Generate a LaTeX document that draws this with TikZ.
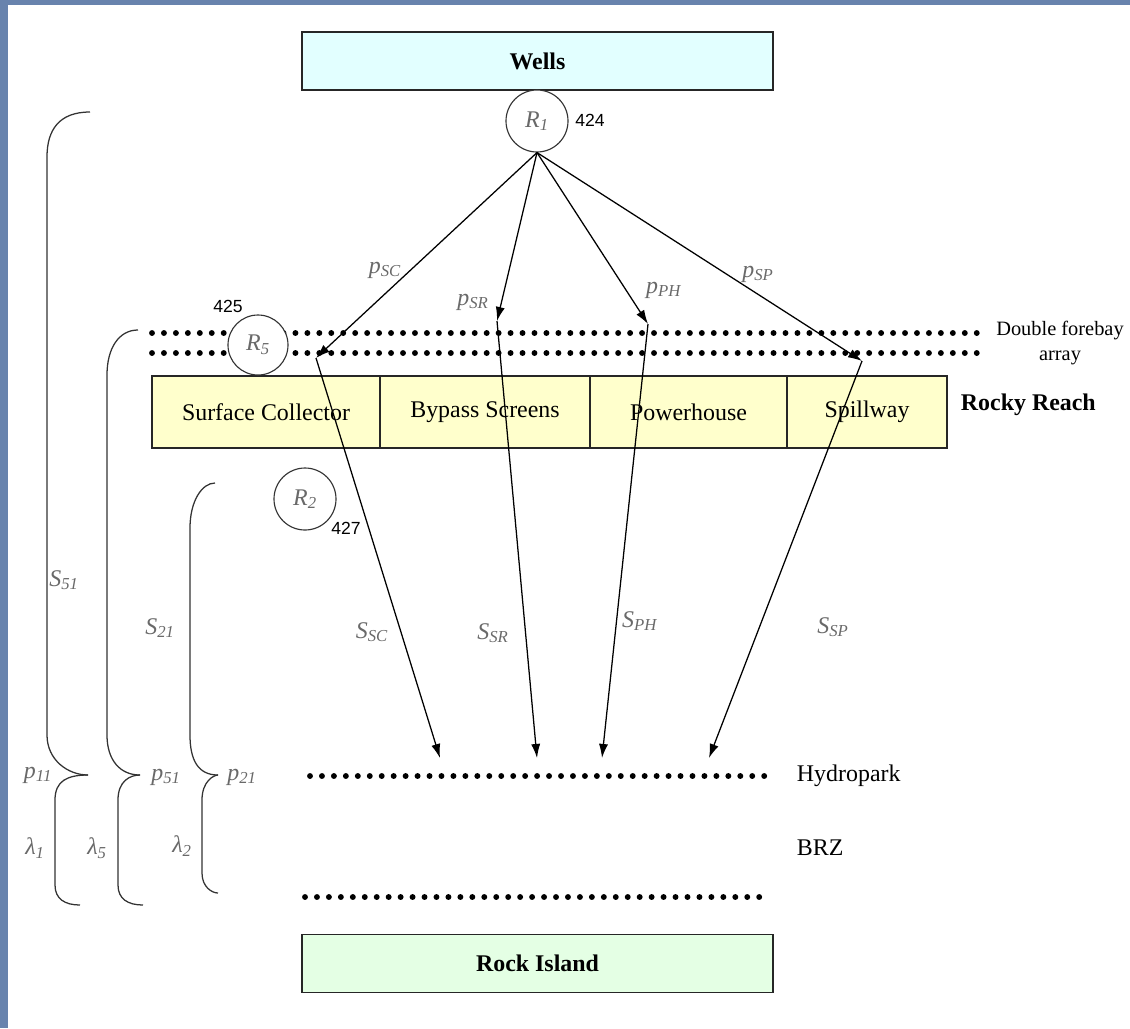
\documentclass[tikz,border=0pt]{standalone}
\usepackage{fontspec}
\setmainfont{Liberation Serif}
\newfontfamily\numfont{Liberation Sans}
\usetikzlibrary{arrows.meta}

\definecolor{framebar}{RGB}{104,131,173}
\definecolor{wellsfill}{RGB}{226,255,255}
\definecolor{reachfill}{RGB}{255,255,204}
\definecolor{islandfill}{RGB}{228,255,228}
\definecolor{labgray}{RGB}{105,105,105}

% italic symbol with italic subscript
\newcommand{\sym}[2]{\textit{#1}\textsubscript{\textit{#2}}}

\tikzset{
  station/.style={draw=black!85, line width=1.2pt, minimum width=11.78cm, minimum height=1.45cm, font=\fontsize{17}{20}\selectfont\bfseries},
  cell/.style={draw=black!85, line width=1pt, fill=reachfill, minimum height=1.8cm, inner sep=0pt},
  gate/.style={circle, draw=black!80, line width=0.8pt, fill=white, minimum size=1.55cm, inner sep=0pt, text=labgray},
  tag/.style={font=\fontsize{12.5}{14}\selectfont\numfont},
  glab/.style={text=labgray},
  flow/.style={->, line width=0.9pt},
  dotrow/.style={line width=4.2pt, line cap=round, dash pattern=on 0pt off 8.5pt},
  brace/.style={line width=0.9pt, black!80},
}

\begin{document}
\begin{tikzpicture}[x=0.025cm, y=-0.025cm, >={Latex[length=10pt,width=6.5pt]}, every node/.style={font=\fontsize{17}{20}\selectfont}]
  \useasboundingbox (0,0) rectangle (1130,1028);
  % frame bars
  \fill[framebar] (0,0) rectangle (8,1028);
  \fill[framebar] (0,0) rectangle (1130,5);

  % dams
  \node[station, fill=wellsfill] (wells) at (537.5,61) {Wells};
  \node[station, fill=islandfill] (island) at (537.5,963.5) {Rock Island};

  % Rocky Reach passage routes
  \node[cell, minimum width=5.7cm] (collector) at (266,412) {Surface Collector};
  \node[cell, minimum width=5.25cm] (bypass) at (485,412) {Bypass Screens};
  \node[cell, minimum width=4.925cm] (powerhouse) at (688.5,412) {Powerhouse};
  \node[cell, minimum width=4cm] (spillway) at (867,412) {Spillway};
  \node[font=\fontsize{17}{20}\selectfont\bfseries, anchor=west] (reach) at (956,405) {Rocky Reach};

  % detection arrays
  \draw[dotrow] (152,333) -- (985,333);
  \draw[dotrow] (152,353) -- (985,353);
  \draw[dotrow] (310,776) -- (770,776);
  \draw[dotrow] (305,897) -- (765,897);
  \node[align=center, font=\fontsize{14.5}{18}\selectfont] (forebay) at (1060,343) {Double forebay\\array};
  \node[anchor=west] (hydropark) at (792,776) {Hydropark};
  \node[anchor=west] (brz) at (792,848) {BRZ};

  % release sites
  \node[gate] (r1) at (537,121) {\sym{R}{1}};
  \node[gate, minimum size=1.5cm] (r5) at (258,345) {\sym{R}{5}};
  \node[gate] (r2) at (305,499) {\sym{R}{2}};
  \node[tag] (n424) at (590,120) {424};
  \node[tag] (n425) at (228,306) {425};
  \node[tag] (n427) at (346,528) {427};

  % route ends
  \coordinate (topSC) at (316,358);
  \coordinate (topSR) at (497,321);
  \coordinate (topPH) at (648,324);
  \coordinate (topSP) at (862,361);
  \coordinate (hpSC) at (440,758);
  \coordinate (hpSR) at (537,758);
  \coordinate (hpPH) at (602,758);
  \coordinate (hpSP) at (709,758);

  \foreach \r in {SC,SR,PH,SP}{
    \draw[flow] (r1.south) -- (top\r);
    \draw[flow] (top\r) -- (hp\r);
  }

  % route probabilities
  \node[glab] (pSC) at (385,270) {\sym{p}{SC}};
  \node[glab] (pSR) at (473,302) {\sym{p}{SR}};
  \node[glab] (pPH) at (664,290) {\sym{p}{PH}};
  \node[glab] (pSP) at (758,274) {\sym{p}{SP}};
  \node[glab] (sSC) at (372,632) {\sym{S}{SC}};
  \node[glab] (sSR) at (493,633) {\sym{S}{SR}};
  \node[glab] (sPH) at (640,621) {\sym{S}{PH}};
  \node[glab] (sSP) at (833,627) {\sym{S}{SP}};

  % braces: top end, upper x, tip x, lower x, bottom end
  \foreach \xt/\yt/\xu/\xp/\xl/\xb/\yb in {90/112/47/88/55/80/905, 138/330/107/140/118/143/905, 215/483/190/218/202/218/893}{
    \draw[brace] (\xt,\yt) .. controls (\xu+12,\yt) and (\xu,\yt+18) .. (\xu,\yt+45)
      -- (\xu,735) .. controls (\xu,760) and (\xp-20,775) .. (\xp,775);
    \draw[brace] (\xp,775) .. controls (\xl+12,775) and (\xl,781) .. (\xl,800)
      -- (\xl,\yb-20) .. controls (\xl,\yb-6) and (\xl+10,\yb) .. (\xb,\yb);
  }
  \node[glab] (s51) at (64,580) {\sym{S}{51}};
  \node[glab] (s21) at (160,628) {\sym{S}{21}};
  \node[glab] (p11) at (38,775) {\sym{p}{11}};
  \node[glab] (p51) at (166,777) {\sym{p}{51}};
  \node[glab] (p21) at (242,777) {\sym{p}{21}};
  \node[glab] (l1) at (35,848) {\sym{λ}{1}};
  \node[glab] (l5) at (97,848) {\sym{λ}{5}};
  \node[glab] (l2) at (182,846) {\sym{λ}{2}};
\end{tikzpicture}
\end{document}
